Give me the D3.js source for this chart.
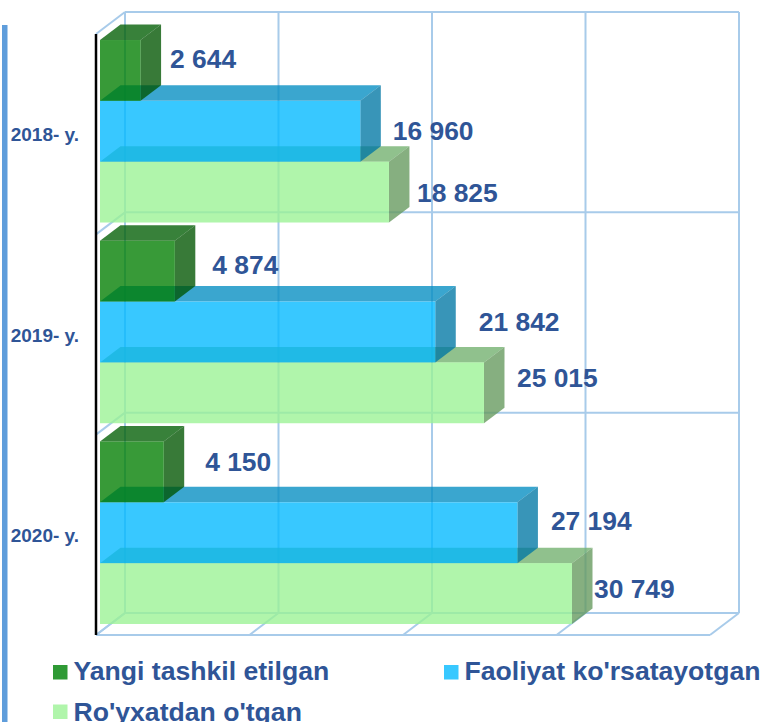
<!DOCTYPE html>
<html>
  <head>
    <meta charset="utf-8">
    <title>Korxonalar</title>
    <script src="https://d3js.org/d3.v7.min.js"></script>
    <style>
      html, body { margin: 0; padding: 0; background: #fff; overflow: hidden; }
      svg { display: block; }
      text { font-family: "Liberation Sans", Arial, sans-serif; font-weight: bold; fill: #2f5597; }
    </style>
  </head>
  <body>
    <script>
      var width = 763;
      var height = 722;

      // data
      var years = ["2018- y.", "2019- y.", "2020- y."];
      var seriesNames = ["Yangi tashkil etilgan", "Faoliyat ko'rsatayotgan", "Ro'yxatdan o'tgan"];
      var yangi = [2644, 4874, 4150];
      var faoliyat = [16960, 21842, 27194];
      var royxat = [18825, 25015, 30749];
      var axisTicks = [0, 10000, 20000, 30000, 40000];

      // hand placed data labels in the original, nudge from the bar end (year, then series)
      var nudgeX = [[9, 12, 7.5], [17, 23, 12.5], [21, 13, 1.5]];
      var nudgeY = [[-11.5, -0.5, 0.5], [-7, -10, -15], [-10.5, -12, -5]];

      // face colours, same order as seriesNames
      var frontColors = ["#007e00", "#00b9ff", "#9af293"];
      var topColors = ["#005e03", "#028dc2", "#71af6d"];
      var sideColors = ["#005400", "#0077a4", "#64985c"];
      var swatchColors = ["#2f9a35", "#38c8ff", "#b0f5ab"];

      var values = [yangi, faoliyat, royxat];

      // wall depth and bar depth
      var wallDx = 29, wallDy = -22;
      var barDx = 20.5, barDy = -15.5;
      var insetX = 4;

      var left = 96, right = 710, topY = 34, bottom = 635;

      var svg = d3.select("body").append("svg").attr("width", width).attr("height", height);

      var xScale = d3.scaleLinear().domain([0, 40000]).range([left, right]);

      var wallBand = d3.scaleBand().domain(years).range([topY, bottom]);

      var yGroup = d3.scaleBand().domain(years)
        .range([30.9, 633.1])
        .paddingInner(0.0909)
        .paddingOuter(0.04545);

      var ySeries = d3.scaleBand().domain(d3.range(seriesNames.length))
        .range([0, yGroup.bandwidth()]);

      // left rule of the slide
      svg.append("rect")
        .attr("x", 2).attr("y", 25).attr("width", 5.5).attr("height", height - 25)
        .attr("fill", "#5f9ddb");

      // walls
      var grid = svg.append("g")
        .attr("fill", "none")
        .attr("stroke", "#a8cbea")
        .attr("stroke-width", 2);

      var levels = [topY].concat(years.map((d) => {return wallBand(d) + wallBand.bandwidth();}));

      // back wall verticals and floor lines
      grid.selectAll(".back")
        .data(axisTicks)
        .enter()
        .append("line")
        .attr("x1", (d) => {return xScale(d) + wallDx;})
        .attr("x2", (d) => {return xScale(d) + wallDx;})
        .attr("y1", topY + wallDy)
        .attr("y2", bottom + wallDy);

      grid.selectAll(".floor")
        .data(axisTicks)
        .enter()
        .append("line")
        .attr("x1", (d) => {return xScale(d);})
        .attr("x2", (d) => {return xScale(d) + wallDx;})
        .attr("y1", bottom)
        .attr("y2", bottom + wallDy);

      // back wall horizontals and left wall diagonals
      grid.selectAll(".level")
        .data(levels)
        .enter()
        .append("line")
        .attr("x1", left + wallDx)
        .attr("x2", right + wallDx)
        .attr("y1", (d) => {return d + wallDy;})
        .attr("y2", (d) => {return d + wallDy;});

      grid.selectAll(".diag")
        .data(levels)
        .enter()
        .append("line")
        .attr("x1", left)
        .attr("x2", left + wallDx)
        .attr("y1", (d) => {return d;})
        .attr("y2", (d) => {return d + wallDy;});

      grid.append("line")
        .attr("x1", left).attr("x2", right)
        .attr("y1", bottom).attr("y2", bottom);

      // bars, bottom one of each group first so the upper ones sit on top
      var bars = [];
      years.forEach((year, i) => {
        [2, 1, 0].forEach((s) => {
          bars.push({year: year, yearIndex: i, series: s, value: values[s][i]});
        });
      });

      var barGroup = svg.append("g")
        .selectAll("g")
        .data(bars)
        .enter()
        .append("g")
        .attr("fill-opacity", 0.78);

      function barBox(d) {
        var x0 = xScale(0) + insetX;
        var x1 = xScale(d.value) + insetX;
        var y0 = yGroup(d.year) + ySeries(d.series);
        var y1 = y0 + ySeries.bandwidth();
        return {x0: x0, x1: x1, y0: y0, y1: y1};
      }

      barGroup.append("path")
        .attr("fill", (d) => {return topColors[d.series];})
        .attr("d", (d) => {
          var b = barBox(d);
          return d3.line()([[b.x0, b.y0], [b.x0 + barDx, b.y0 + barDy], [b.x1 + barDx, b.y0 + barDy], [b.x1, b.y0]]) + "Z";
        });

      barGroup.append("path")
        .attr("fill", (d) => {return sideColors[d.series];})
        .attr("d", (d) => {
          var b = barBox(d);
          return d3.line()([[b.x1, b.y0], [b.x1 + barDx, b.y0 + barDy], [b.x1 + barDx, b.y1 + barDy], [b.x1, b.y1]]) + "Z";
        });

      barGroup.append("rect")
        .attr("fill", (d) => {return frontColors[d.series];})
        .attr("x", (d) => {return barBox(d).x0;})
        .attr("y", (d) => {return barBox(d).y0;})
        .attr("width", (d) => {return barBox(d).x1 - barBox(d).x0;})
        .attr("height", (d) => {return barBox(d).y1 - barBox(d).y0;});

      // value axis line
      svg.append("line")
        .attr("x1", left).attr("x2", left)
        .attr("y1", topY).attr("y2", bottom)
        .attr("stroke", "#000")
        .attr("stroke-width", 2.5);

      // data labels, space as thousands separator
      svg.append("g")
        .selectAll("text")
        .data(bars)
        .enter()
        .append("text")
        .attr("x", (d) => {return barBox(d).x1 + barDx + nudgeX[d.yearIndex][d.series];})
        .attr("y", (d) => {
          var b = barBox(d);
          return (b.y0 + b.y1) / 2 + nudgeY[d.yearIndex][d.series];
        })
        .attr("dy", "0.358em")
        .attr("font-size", 26.4)
        .text((d) => {return d3.format(",")(d.value).replace(",", " ");});

      // year labels
      var axisy = d3.axisLeft(wallBand).tickSize(0).tickPadding(0);
      var yAxisG = svg.append("g")
        .attr("transform", "translate(79,1)")
        .call(axisy);
      yAxisG.select(".domain").remove();
      yAxisG.selectAll("text")
        .attr("font-size", 19)
        .style("font-family", "\"Liberation Sans\", Arial, sans-serif");

      // legend, last row runs off the bottom edge in the original too
      var legendX = [53, 444, 53];
      var legendY = [665, 665, 704.5];
      var legendBaseline = [15, 15, 16];
      var legend = svg.append("g")
        .selectAll("g")
        .data(seriesNames)
        .enter()
        .append("g")
        .attr("transform", (d, i) => {
          return "translate(" + legendX[i] + "," + legendY[i] + ")";
        });

      legend.append("rect")
        .attr("width", 14.5)
        .attr("height", 14.5)
        .attr("fill", (d, i) => {return swatchColors[i];});

      legend.append("text")
        .attr("x", 20.5)
        .attr("y", (d, i) => {return legendBaseline[i];})
        .attr("font-size", 26.6)
        .text((d) => {return d;});
    </script>
  </body>
</html>
